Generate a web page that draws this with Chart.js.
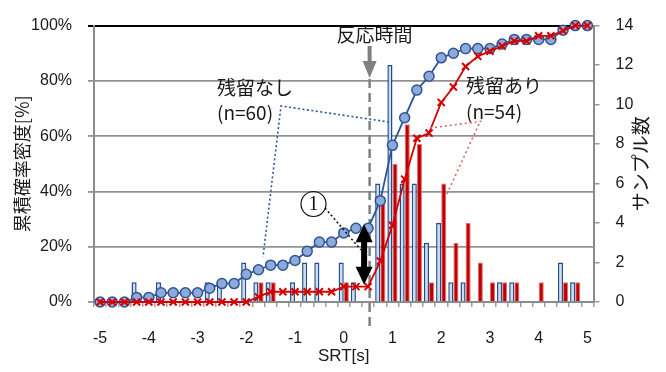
<!DOCTYPE html>
<html>
<head>
<meta charset="utf-8">
<script src="https://cdn.jsdelivr.net/npm/chart.js@4/dist/chart.umd.min.js"></script>
<style>
  html, body { margin: 0; padding: 0; background: #fff; }
  #wrap { width: 666px; height: 372px; position: relative; }
</style>
</head>
<body>
<div id="wrap"><canvas id="c" width="666" height="372"></canvas></div>
<script>
// SRT bins [s], 0.25 s wide
const srtBins = [-5, -4.75, -4.5, -4.25, -4, -3.75, -3.5, -3.25, -3, -2.75, -2.5, -2.25, -2, -1.75, -1.5, -1.25,
  -1, -0.75, -0.5, -0.25, 0, 0.25, 0.5, 0.75, 1, 1.25, 1.5, 1.75, 2, 2.25, 2.5, 2.75, 3, 3.25, 3.5, 3.75,
  4, 4.25, 4.5, 4.75, 5];
// axis labels shown on the SRT axis
const srtTickLabels = ['-5', '-4', '-3', '-2', '-1', '0', '1', '2', '3', '4', '5'];

// sample counts per bin
const countNone  = [0, 0, 0, 1, 0, 1, 0, 0, 0, 1, 1, 0, 2, 1, 1, 0, 1, 2, 2, 0, 2, 1, 0, 6, 12, 6, 6, 3, 4, 1, 1, 0, 0, 1, 1, 0, 0, 0, 2, 1, 0];
const countResid = [0, 0, 0, 0, 0, 0, 0, 0, 0, 0, 0, 0, 0, 1, 1, 0, 0, 0, 0, 0, 1, 0, 0, 5, 7, 9, 8, 1, 6, 3, 4, 2, 1, 1, 1, 0, 1, 0, 1, 1, 0];

// cumulative probability [%]
const cumNone  = [0, 0, 0, 1.67, 1.67, 3.33, 3.33, 3.33, 3.33, 5, 6.67, 6.67, 10, 11.67, 13.33, 13.33, 15, 18.33, 21.67, 21.67,
  25, 26.67, 26.67, 36.67, 56.67, 66.67, 76.67, 81.67, 88.33, 90, 91.67, 91.67, 91.67, 93.33, 95, 95, 95, 95, 98.33, 100, 100];
const cumResid = [0, 0, 0, 0, 0, 0, 0, 0, 0, 0, 0, 0, 0, 1.85, 3.7, 3.7, 3.7, 3.7, 3.7, 3.7,
  5.56, 5.56, 5.56, 14.81, 27.78, 44.44, 59.26, 61.11, 72.22, 77.78, 85.19, 88.89, 90.74, 92.59, 94.44, 94.44, 96.3, 96.3, 98.15, 100, 100];

const reactionTime = 0.5;

const tickFont = { family: "'Liberation Sans', Arial, sans-serif", size: 16 };
const jpFont = "'Noto Sans CJK JP', sans-serif";
const textColor = '#1a1a1a';

function dblArrow(ctx, x, y1, y2, shaft, headW, headH) {
  ctx.beginPath();
  ctx.moveTo(x, y1);
  ctx.lineTo(x + headW / 2, y1 + headH);
  ctx.lineTo(x + shaft / 2, y1 + headH);
  ctx.lineTo(x + shaft / 2, y2 - headH);
  ctx.lineTo(x + headW / 2, y2 - headH);
  ctx.lineTo(x, y2);
  ctx.lineTo(x - headW / 2, y2 - headH);
  ctx.lineTo(x - shaft / 2, y2 - headH);
  ctx.lineTo(x - shaft / 2, y1 + headH);
  ctx.lineTo(x - headW / 2, y1 + headH);
  ctx.closePath();
  ctx.fill();
}

function dotted(ctx, pts, color, dash) {
  ctx.save();
  ctx.strokeStyle = color;
  ctx.lineWidth = 1.6;
  ctx.setLineDash(dash);
  ctx.beginPath();
  ctx.moveTo(pts[0][0], pts[0][1]);
  for (let i = 1; i < pts.length; i++) ctx.lineTo(pts[i][0], pts[i][1]);
  ctx.stroke();
  ctx.restore();
}

const annotations = {
  id: 'annotations',
  beforeDatasetsDraw(chart) {
    const { ctx, scales: { x } } = chart;
    const rx = x.getPixelForValue(srtBins.indexOf(reactionTime)) + 1.5;
    ctx.save();
    ctx.strokeStyle = '#808080';
    ctx.lineWidth = 2.5;
    ctx.setLineDash([9, 5]);
    ctx.beginPath();
    ctx.moveTo(rx, 79);
    ctx.lineTo(rx, 327);
    ctx.stroke();
    ctx.restore();
  },
  afterDatasetsDraw(chart) {
    const { ctx, chartArea: a, scales: { x, y } } = chart;
    const iRt = srtBins.indexOf(reactionTime);
    const rx = x.getPixelForValue(iRt) + 1.5;
    ctx.save();

    // reaction time marker
    ctx.fillStyle = '#808080';
    ctx.fillRect(rx - 2, 46, 4, 17);
    ctx.beginPath();
    ctx.moveTo(rx - 7, 61);
    ctx.lineTo(rx + 7, 61);
    ctx.lineTo(rx, 78);
    ctx.closePath();
    ctx.fill();

    ctx.fillStyle = textColor;
    ctx.font = `19px ${jpFont}`;
    ctx.textAlign = 'center';
    ctx.textBaseline = 'middle';
    ctx.fillText('反応時間', rx + 5, 35);

    // group labels
    ctx.textAlign = 'left';
    ctx.fillText('残留なし', 217, 88);
    ctx.fillText('(n=60)', 217, 113);
    ctx.fillText('残留あり', 466, 86);
    ctx.fillText('(n=54)', 466, 112);

    // leader lines
    dotted(ctx, [[389, 122], [281, 106], [263, 257]], '#2f5597', [2, 2.5]);
    dotted(ctx, [[430, 128], [484, 121]], '#e06666', [2, 3]);
    dotted(ctx, [[479, 124], [446, 196]], '#e06666', [2, 3]);
    dotted(ctx, [[325, 208], [361, 250]], '#111', [2, 2.5]);

    // circled marker 1
    ctx.strokeStyle = '#111';
    ctx.lineWidth = 1.2;
    ctx.beginPath();
    ctx.arc(313.5, 204, 12.5, 0, Math.PI * 2);
    ctx.stroke();
    ctx.fillStyle = '#111';
    ctx.font = "20px 'Liberation Serif', serif";
    ctx.textAlign = 'center';
    ctx.fillText('1', 313.5, 205);

    // gap between the two cumulative curves at the reaction time
    const ax = x.getPixelForValue(iRt) - 4;
    const yTop = y.getPixelForValue(cumNone[iRt]) - 4;
    const yBot = y.getPixelForValue(cumResid[iRt]) - 2;
    ctx.fillStyle = '#000';
    dblArrow(ctx, ax, yTop, yBot, 6, 17, 18);

    // axis titles
    ctx.fillStyle = textColor;
    ctx.font = `18px ${jpFont}`;
    ctx.textAlign = 'center';
    ctx.textBaseline = 'middle';
    const cy = (a.top + a.bottom) / 2;
    ctx.save();
    ctx.translate(22, cy);
    ctx.rotate(-Math.PI / 2);
    ctx.fillText('累積確率密度[%]', 0, 0);
    ctx.restore();
    ctx.save();
    ctx.font = `19px ${jpFont}`;
    ctx.translate(641, cy);
    ctx.rotate(-Math.PI / 2);
    ctx.fillText('サンプル数', 0, 0);
    ctx.restore();

    ctx.font = "17px 'Liberation Sans', Arial, sans-serif";
    ctx.fillText('SRT[s]', (a.left + a.right) / 2, 356);
    ctx.restore();
  }
};

new Chart(document.getElementById('c'), {
  data: {
    labels: srtBins,
    datasets: [
      {
        type: 'bar', label: '残留なし', data: countNone, yAxisID: 'y2', order: 2,
        backgroundColor: '#cfdcef', borderColor: '#1f4e8c',
        borderWidth: (c) => (c.raw ? 1.5 : 0),
        categoryPercentage: 0.84, barPercentage: 1.0
      },
      {
        type: 'bar', label: '残留あり', data: countResid, yAxisID: 'y2', order: 2,
        backgroundColor: '#c00000', borderColor: '#e57373',
        borderWidth: (c) => (c.raw ? 1 : 0),
        categoryPercentage: 0.84, barPercentage: 1.0
      },
      {
        type: 'line', label: '残留なし 累積', data: cumNone, yAxisID: 'y', order: 1,
        borderColor: '#2f5597', borderWidth: 1.8, tension: 0, clip: false,
        pointStyle: 'circle', pointRadius: 5, pointBackgroundColor: '#8eaadb',
        pointBorderColor: '#2f5597', pointBorderWidth: 1.5
      },
      {
        type: 'line', label: '残留あり 累積', data: cumResid, yAxisID: 'y', order: 0,
        borderColor: '#d40000', borderWidth: 1.8, tension: 0, clip: false,
        pointStyle: 'crossRot', pointRadius: 5, pointBorderColor: '#d40000',
        pointBorderWidth: 2
      }
    ]
  },
  options: {
    responsive: false,
    animation: false,
    layout: { padding: { top: 16, left: 0, right: 0, bottom: 0 } },
    plugins: { legend: { display: false }, tooltip: { enabled: false } },
    scales: {
      x: {
        type: 'category',
        offset: true,
        grid: { offset: true, drawOnChartArea: false, drawTicks: true, tickLength: 5, color: '#a0a0a0', lineWidth: 1.5 },
        border: { color: '#8c8c8c', width: 2 },
        ticks: {
          autoSkip: false, maxRotation: 0, minRotation: 0, padding: 22,
          font: tickFont, color: textColor,
          callback: (v, i) => {
            const s = String(srtBins[i]);
            return srtTickLabels.includes(s) ? s : '';
          }
        },
        afterFit: (s) => { s.height = 70; }
      },
      y: {
        position: 'left', min: 0, max: 100,
        ticks: { stepSize: 20, padding: 16, font: tickFont, color: textColor, callback: (v) => v + '%' },
        grid: {
          tickLength: 6,
          color: (c) => (c.tick && c.tick.value === 100 ? '#000' : '#939393'),
          lineWidth: (c) => (c.tick && c.tick.value === 100 ? 2 : 1.8)
        },
        border: { color: '#8c8c8c', width: 2 },
        afterFit: (s) => { s.width = 94; }
      },
      y2: {
        position: 'right', min: 0, max: 14,
        ticks: { stepSize: 2, padding: 16, font: tickFont, color: textColor },
        grid: { drawOnChartArea: false, tickLength: 6, color: '#999', lineWidth: 1.5 },
        border: { color: '#8c8c8c', width: 2 },
        afterFit: (s) => { s.width = 72.5; }
      }
    }
  },
  plugins: [annotations]
});
</script>
</body>
</html>
